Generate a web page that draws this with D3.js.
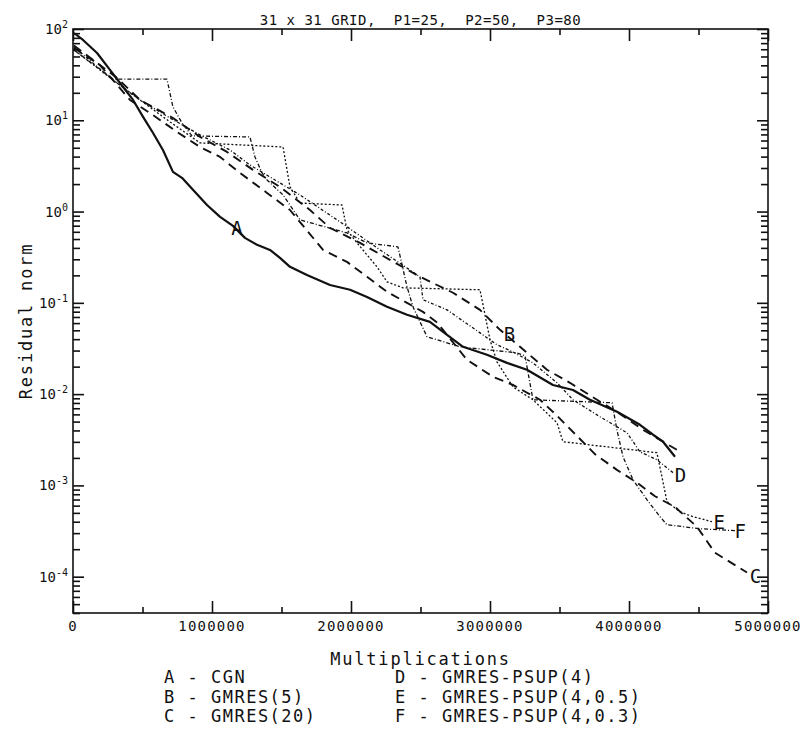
<!DOCTYPE html>
<html>
<head>
<meta charset="utf-8">
<script src="https://cdn.jsdelivr.net/npm/d3@7/dist/d3.min.js"></script>
<style>
  body { margin: 0; background: #fff; }
  text { font-family: "DejaVu Sans Mono", "Liberation Mono", monospace; fill: #111; white-space: pre; }
</style>
</head>
<body>
<svg id="chart" width="808" height="738"></svg>
<script>
// data: [multiplications, residual norm]
const seriesA = [[7000,90.4],[72000,75.8],[173000,54.6],[266000,35.6],[338000,25.6],[432000,16.7],[504000,10.9],[576000,7.26],[647000,4.73],[719000,2.72],[784000,2.34],[863000,1.73],[964000,1.18],[1058000,0.874],[1151000,0.697],[1237000,0.515],[1324000,0.432],[1417000,0.38],[1489000,0.311],[1561000,0.248],[1683000,0.202],[1849000,0.157],[1993000,0.139],[2115000,0.116],[2259000,0.0904],[2403000,0.074],[2568000,0.0619],[2691000,0.0447],[2806000,0.033],[2978000,0.027],[3122000,0.022],[3266000,0.0185],[3453000,0.0126],[3597000,0.0111],[3719000,0.00867],[3914000,0.0064],[4079000,0.00461],[4173000,0.00359],[4245000,0.00301],[4331000,0.00206]];
const seriesB = [[7000,66],[317000,29.1],[482000,16.7],[719000,10.6],[914000,6.57],[1108000,4.5],[1295000,2.86],[1489000,1.86],[1705000,1.04],[1849000,0.662],[2065000,0.454],[2280000,0.296],[2496000,0.193],[2734000,0.129],[2928000,0.0838],[3072000,0.0506],[3216000,0.033],[3410000,0.0185],[3575000,0.0133],[3770000,0.00867],[3913000,0.0064],[4101000,0.00406],[4345000,0.00245]];
const seriesC = [[7000,61.9],[194000,40.3],[410000,16.7],[576000,11.4],[748000,7.45],[914000,5.1],[1058000,3.97],[1201000,2.65],[1396000,1.6],[1561000,1.04],[1799000,0.38],[1971000,0.281],[2115000,0.193],[2259000,0.132],[2403000,0.1],[2518000,0.0796],[2619000,0.061],[2834000,0.0238],[3021000,0.0155],[3165000,0.0126],[3360000,0.00867],[3482000,0.0058],[3755000,0.0022],[3913000,0.00148],[4058000,0.00107],[4187000,0.00076],[4331000,0.00058],[4489000,0.000352],[4618000,0.000183],[4849000,0.000111]];
const seriesD = [[7000,63.5],[288000,27.6],[482000,16.7],[698000,10.6],[914000,6.91],[1129000,4.73],[1273000,3.24],[1453000,2.22],[1633000,1.52],[1921000,0.771],[2209000,0.38],[2496000,0.193],[2518000,0.108],[2691000,0.0838],[2928000,0.0469],[3050000,0.0347],[3165000,0.029],[3309000,0.022],[3482000,0.0133],[3597000,0.00867],[3791000,0.00565],[3986000,0.00377],[4079000,0.00233],[4201000,0.00191],[4316000,0.00138]];
const seriesE = [[7000,58.9],[158000,39.3],[288000,27.6],[482000,16.7],[698000,9.59],[914000,5.65],[1511000,5.1],[1561000,1.86],[1633000,1.24],[1935000,1.18],[1971000,0.63],[2043000,0.454],[2187000,0.248],[2259000,0.17],[2374000,0.146],[2928000,0.139],[3000000,0.0394],[3050000,0.0226],[3165000,0.012],[3309000,0.00867],[3482000,0.00485],[3525000,0.00301],[4201000,0.00228],[4237000,0.00124],[4273000,0.000662],[4367000,0.000514],[4460000,0.000454],[4597000,0.0004]];
const seriesF = [[7000,58.9],[122000,43.5],[288000,28.3],[676000,28.3],[719000,14],[784000,9.35],[856000,6.74],[1273000,6.57],[1309000,3.97],[1360000,2.65],[1396000,2.22],[1511000,1.52],[1633000,0.811],[1971000,0.583],[2115000,0.454],[2338000,0.41],[2403000,0.15],[2446000,0.0904],[2547000,0.0425],[2784000,0.033],[3194000,0.0283],[3252000,0.0263],[3309000,0.00867],[3878000,0.00804],[3913000,0.00406],[3957000,0.00206],[4029000,0.00115],[4129000,0.000697],[4223000,0.000454],[4273000,0.000371],[4511000,0.000335],[4762000,0.000319]];

// curve letters and where they sit
const curveLabels = ['A', 'B', 'C', 'D', 'E', 'F'];
const labelSpots = [[1180000, 0.65], [3140000, 0.045], [4910000, 0.000102], [4370000, 0.00128], [4650000, 0.00039], [4800000, 0.00031]];

const legendLines = [
  'A - CGN', 'B - GMRES(5)', 'C - GMRES(20)',
  'D - GMRES-PSUP(4)', 'E - GMRES-PSUP(4,0.5)', 'F - GMRES-PSUP(4,0.3)'
];

const xMajor = [0, 1000000, 2000000, 3000000, 4000000, 5000000];
const xMinor = [500000, 1500000, 2500000, 3500000, 4500000];
const yExponents = [2, 1, 0, -1, -2, -3, -4];

const title = '31 x 31 GRID,  P1=25,  P2=50,  P3=80';
const xTitle = 'Multiplications';
const yTitle = 'Residual norm';

// layout
const plotLeft = 73, plotRight = 768, plotTop = 29, plotBottom = 613;

const svg = d3.select('#chart');

const xScale = d3.scaleLinear().domain([0, 5000000]).range([plotLeft, plotRight]);
const yScale = d3.scaleLog().domain([4e-5, 100]).range([plotBottom, plotTop]);

const yMajor = yExponents.map(e => Math.pow(10, e));
const yMinor = [];
for (let e = -5; e < 2; e++) {
  for (let k = 2; k <= 9; k++) {
    const v = k * Math.pow(10, e);
    if (v >= 4e-5 && v < 100) yMinor.push(v);
  }
}

function tickAxis(axisFn, scale, values, size, tx, ty) {
  const g = svg.append('g')
    .attr('transform', `translate(${tx},${ty})`)
    .call(axisFn(scale).tickValues(values).tickSizeInner(size).tickSizeOuter(0).tickFormat(''));
  g.select('.domain').remove();
  g.selectAll('line').attr('stroke', '#111').attr('stroke-width', 1.6);
  return g;
}

// ticks pointing into the frame on all four sides
tickAxis(d3.axisBottom, xScale, xMajor, -12, 0, plotBottom);
tickAxis(d3.axisBottom, xScale, xMinor, -6, 0, plotBottom);
tickAxis(d3.axisTop, xScale, xMajor, -12, 0, plotTop);
tickAxis(d3.axisTop, xScale, xMinor, -6, 0, plotTop);
tickAxis(d3.axisLeft, yScale, yMajor, -11, plotLeft, 0);
tickAxis(d3.axisLeft, yScale, yMinor, -7, plotLeft, 0);
tickAxis(d3.axisRight, yScale, yMajor, -11, plotRight, 0);
tickAxis(d3.axisRight, yScale, yMinor, -7, plotRight, 0);

// frame
svg.append('rect')
  .attr('x', plotLeft).attr('y', plotTop)
  .attr('width', plotRight - plotLeft).attr('height', plotBottom - plotTop)
  .attr('fill', 'none').attr('stroke', '#111').attr('stroke-width', 1.6);

// x tick labels
svg.append('g').selectAll('text')
  .data(xMajor)
  .enter()
  .append('text')
  .attr('x', d => xScale(d))
  .attr('y', plotBottom + 18)
  .attr('text-anchor', 'middle')
  .style('font-size', '14px')
  .style('letter-spacing', '1.2px')
  .text(d => d);

// y tick labels, 10 with superscript exponent
const yLab = svg.append('g').selectAll('text')
  .data(yExponents)
  .enter()
  .append('text')
  .attr('x', plotLeft - 5)
  .attr('y', d => yScale(Math.pow(10, d)) + 5)
  .attr('text-anchor', 'end')
  .style('font-size', '14px');
yLab.append('tspan').text('10');
yLab.append('tspan')
  .attr('dy', -6)
  .style('font-size', '10px')
  .text(d => d < 0 ? '-' + (-d) : d);

// titles
svg.append('text')
  .attr('x', (plotLeft + plotRight) / 2)
  .attr('y', plotTop - 4)
  .attr('text-anchor', 'middle')
  .style('font-size', '14px')
  .style('letter-spacing', '0.5px')
  .text(title);

svg.append('text')
  .attr('transform', `translate(32,${(plotTop + plotBottom) / 2}) rotate(-90)`)
  .attr('text-anchor', 'middle')
  .style('font-size', '17px')
  .style('letter-spacing', '1.8px')
  .text(yTitle);

svg.append('text')
  .attr('x', (plotLeft + plotRight) / 2)
  .attr('y', plotBottom + 52)
  .attr('text-anchor', 'middle')
  .style('font-size', '17px')
  .style('letter-spacing', '1.8px')
  .text(xTitle);

// curves
const line = d3.line()
  .x(d => xScale(d[0]))
  .y(d => yScale(d[1]));

const allSeries = [seriesA, seriesB, seriesC, seriesD, seriesE, seriesF];
const dashes = [null, '9,6', '9,6', '3,2,1,2', '2,2', '4,2,1,2'];
const widths = [2.2, 1.9, 1.9, 1.3, 1.3, 1.3];

svg.append('g').selectAll('path')
  .data(allSeries)
  .enter()
  .append('path')
  .attr('d', line)
  .attr('fill', 'none')
  .attr('stroke', '#111')
  .attr('stroke-width', (d, i) => widths[i])
  .attr('stroke-dasharray', (d, i) => dashes[i])
  .attr('stroke-linejoin', 'round');

svg.append('g').selectAll('text')
  .data(labelSpots)
  .enter()
  .append('text')
  .attr('x', d => xScale(d[0]))
  .attr('y', d => yScale(d[1]))
  .attr('text-anchor', 'middle')
  .attr('dy', '0.35em')
  .style('font-size', '19px')
  .text((d, i) => curveLabels[i]);

// legend, two columns of three
svg.append('g').selectAll('text')
  .data(legendLines)
  .enter()
  .append('text')
  .attr('x', (d, i) => i < 3 ? 164 : 395)
  .attr('y', (d, i) => plotBottom + 70 + (i % 3) * 19.5)
  .style('font-size', '17px')
  .style('letter-spacing', '1.5px')
  .text(d => d);
</script>
</body>
</html>
